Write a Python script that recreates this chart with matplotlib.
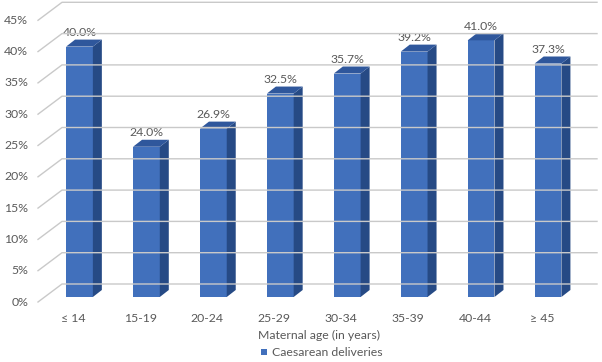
import matplotlib
matplotlib.use("Agg")
import matplotlib.pyplot as plt
import matplotlib.transforms as mtransforms
from matplotlib.patches import Polygon, Rectangle

categories = ["≤ 14", "15-19", "20-24", "25-29", "30-34", "35-39", "40-44", "≥ 45"]
values = [40.0, 24.0, 26.9, 32.5, 35.7, 39.2, 41.0, 37.3]
yticks = [0, 5, 10, 15, 20, 25, 30, 35, 40, 45]
series_name = "Caesarean deliveries"
xlabel = "Maternal age (in years)"

plt.rcParams['font.family'] = ['Lato', 'DejaVu Sans']
TXT = "#595959"
FRONT = "#4170BC"
SIDE = "#264A85"
TOP = "#2F579C"
GRID = "#C9C9C9"
FS = 8.8

W, H, DPI = 602, 362, 100
fig = plt.figure(figsize=(W / DPI, H / DPI), dpi=DPI)

# axes: bar-front plane, pixel layout
left_px, right_px = 46.0, 581.5
bottom_px, top_px = 297.0, 15.3  # from top of image
ax = fig.add_axes([left_px / W, (H - bottom_px) / H,
                   (right_px - left_px) / W, (bottom_px - top_px) / H])
ax.set_xlim(-0.5, len(categories) - 0.5)
ax.set_ylim(0, 45)
ax.axis("off")

px_x = (right_px - left_px) / len(categories)   # pixels per category
px_y = (bottom_px - top_px) / 45.0              # pixels per percent

bw = 0.40
dx_px, dy_px = 9.0, 7.0  # depth of bars
ddx = dx_px / px_x
ddy = dy_px / px_y

blend = mtransforms.blended_transform_factory(ax.transAxes, ax.transData)

def off(tr, x, y):
    return mtransforms.offset_copy(tr, fig=fig, x=x, y=y, units='dots')

# gridlines (side wall diagonal + back wall) and y tick labels
for v in yticks:
    d1 = off(blend, -8, -5).transform((0, v))
    p1 = off(blend, 16, 13).transform((0, v))
    p2 = off(blend, 15.5, 13).transform((1, v))
    line = plt.Line2D([d1[0], p1[0], p2[0]], [d1[1], p1[1], p2[1]],
                      transform=None, color=GRID, lw=1.0, zorder=1)
    fig.add_artist(line)
    ax.text(0, v, f"{v}%", transform=off(blend, -18, -5), ha='right',
            va='center', fontsize=FS, color=TXT, clip_on=False)

# bars
x = list(range(len(categories)))
ax.bar(x, values, width=bw, color=FRONT, zorder=3, linewidth=0)
for xi, v in zip(x, values):
    r = xi + bw / 2
    l = xi - bw / 2
    side = Polygon([(r, 0), (r + ddx, ddy), (r + ddx, v + ddy), (r, v)],
                   closed=True, facecolor=SIDE, edgecolor='none', zorder=3)
    top = Polygon([(l, v), (r, v), (r + ddx, v + ddy), (l + ddx, v + ddy)],
                  closed=True, facecolor=TOP, edgecolor='none', zorder=3)
    ax.add_patch(side)
    ax.add_patch(top)
    ax.text(xi, v, f"{v:.1f}%", transform=off(ax.transData, 0, 14),
            ha='center', va='center', fontsize=FS, color=TXT, zorder=4)

# category labels
for xi, c in zip(x, categories):
    ax.text(xi, 0, c, transform=off(ax.transData, -6, -21), ha='center',
            va='center', fontsize=FS, color=TXT, clip_on=False)

fig.text(319 / W, 1 - 335 / H, xlabel, ha='center', va='center', fontsize=FS,
         color=TXT)
fig.add_artist(Rectangle((261 / W, 1 - 355 / H), 6 / W, 6 / H,
                         transform=fig.transFigure, facecolor=FRONT,
                         edgecolor='none'))
fig.text(272 / W, 1 - 352 / H, series_name, ha='left', va='center',
         fontsize=FS, color=TXT)

fig.savefig("out.png", dpi=DPI)
